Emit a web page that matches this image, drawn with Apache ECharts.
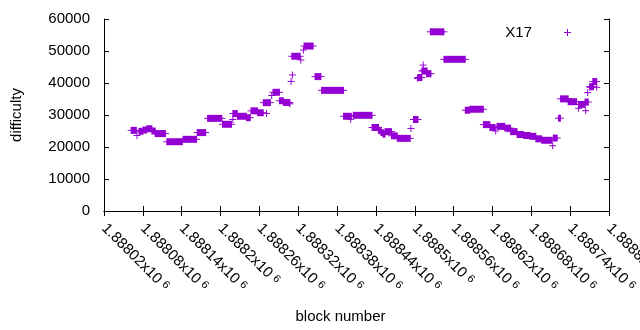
<!DOCTYPE html>
<html>
<head>
<meta charset="utf-8">
<script src="https://cdn.jsdelivr.net/npm/echarts@6/dist/echarts.min.js"></script>
<style>
  html, body { margin: 0; padding: 0; background: #fff; }
  #chart { width: 640px; height: 330px; }
</style>
</head>
<body>
<div id="chart"></div>
<script>
// Each entry is a run of consecutive blocks plotted at one difficulty
// (a single point when from == to).
const blockFrom = [
  1888062, 1888071, 1888074, 1888080, 1888086, 1888094, 1888099, 1888117, 1888142, 1888164,
  1888180, 1888203, 1888219, 1888219, 1888226, 1888240, 1888247, 1888257, 1888271, 1888266,
  1888279, 1888281, 1888291, 1888297, 1888307, 1888309, 1888311, 1888310, 1888324, 1888328,
  1888329, 1888346, 1888356, 1888390, 1888401, 1888405, 1888434, 1888444, 1888448, 1888451,
  1888454, 1888464, 1888473, 1888494, 1888498, 1888504, 1888505, 1888513, 1888513, 1888511,
  1888518, 1888524, 1888545, 1888578, 1888585, 1888606, 1888616, 1888625, 1888627, 1888639,
  1888648, 1888658, 1888668, 1888678, 1888687, 1888696, 1888713, 1888714, 1888722, 1888725,
  1888737, 1888753, 1888753, 1888764, 1888763, 1888767, 1888771, 1888770, 1888775, 1888781
];
const blockTo = [
  1888070, 1888071, 1888080, 1888086, 1888094, 1888099, 1888115, 1888141, 1888163, 1888177,
  1888202, 1888217, 1888219, 1888226, 1888240, 1888246, 1888257, 1888266, 1888271, 1888277,
  1888279, 1888291, 1888297, 1888307, 1888307, 1888309, 1888311, 1888323, 1888324, 1888328,
  1888343, 1888355, 1888390, 1888402, 1888401, 1888434, 1888444, 1888448, 1888451, 1888454,
  1888464, 1888473, 1888493, 1888494, 1888505, 1888504, 1888511, 1888513, 1888513, 1888519,
  1888525, 1888545, 1888578, 1888585, 1888606, 1888616, 1888624, 1888625, 1888639, 1888648,
  1888658, 1888668, 1888678, 1888687, 1888696, 1888712, 1888713, 1888720, 1888725, 1888737,
  1888750, 1888753, 1888763, 1888764, 1888768, 1888767, 1888771, 1888776, 1888781, 1888781
];
const difficulty = [
  25200, 23600, 24900, 25300, 25700, 25000, 24200, 21650, 22400, 24500,
  28950, 27100, 28600, 30450, 29600, 29150, 31300, 30700, 30500, 33850,
  36100, 37100, 34450, 33900, 33500, 40500, 42500, 48350, 47200, 50300,
  51550, 42000, 37700, 29600, 28650, 29900, 26100, 25200, 24500, 24000,
  24800, 23500, 22700, 25800, 28600, 41450, 41700, 45600, 44000, 43750,
  42900, 56000, 47400, 31500, 31800, 27000, 26100, 25000, 26450, 25900,
  24800, 23900, 23600, 23350, 22550, 22100, 20400, 22800, 29000, 35050,
  34150, 32100, 33300, 31350, 34050, 37000, 38650, 38850, 40450, 38650
];

const seriesName = 'X17';
const xMin = 1888020, xMax = 1888800, xStep = 60;
const yMin = 0, yMax = 60000, yStep = 10000;

const purple = '#9400d3';
const font = 'Liberation Sans';
const plusIcon = 'path://M3,0h1v3h3v1h-3v3h-1v-3h-3v-1h3z';

const points = blockFrom.map((b, i) => [b, blockTo[i], difficulty[i]]);

const chart = echarts.init(document.getElementById('chart'));

// draw a run as overlapping "+" marks: vertical bars merge into a block,
// the horizontal arms stick out at both ends
function renderRun(params, api) {
  const a = api.coord([api.value(0), api.value(2)]);
  const b = api.coord([api.value(1), api.value(2)]);
  const color = api.visual('color');
  return {
    type: 'group',
    children: [
      { type: 'rect', shape: { x: a[0] - 0.5, y: a[1] - 3.5, width: b[0] - a[0] + 1, height: 7 },
        style: { fill: color } },
      { type: 'rect', shape: { x: a[0] - 3.5, y: a[1] - 0.5, width: b[0] - a[0] + 7, height: 1 },
        style: { fill: color } }
    ]
  };
}

const tickStyle = { show: true, inside: true, length: 5, lineStyle: { color: '#000', width: 1 } };
const lineStyle = { show: true, lineStyle: { color: '#000', width: 1 } };

chart.setOption({
  animation: false,
  backgroundColor: '#fff',
  textStyle: { fontFamily: font },
  grid: { left: 104, right: 31, top: 19, bottom: 119, containLabel: false, outerBoundsMode: 'none' },
  legend: {
    data: [{ name: seriesName, icon: plusIcon }],
    right: 69,
    top: 25,
    padding: 0,
    align: 'right',
    itemWidth: 7,
    itemHeight: 7,
    textStyle: { fontFamily: font, fontSize: 15, color: '#000', padding: [0, 27, 0, 0] }
  },
  xAxis: [
    {
      type: 'value',
      min: xMin, max: xMax, interval: xStep,
      name: 'block number',
      nameLocation: 'middle',
      nameGap: 98,
      nameTextStyle: { fontFamily: font, fontSize: 15, color: '#000', padding: [0, 32, 0, 0] },
      axisLine: lineStyle,
      axisTick: tickStyle,
      splitLine: { show: false },
      axisLabel: {
        rotate: -45,
        margin: 15,
        interval: 0,
        showMinLabel: true,
        showMaxLabel: true,
        hideOverlap: false,
        formatter: v => '{m|' + parseFloat((v / 1e6).toPrecision(6)) + 'x10}{e|6}',
        rich: {
          m: { fontFamily: font, fontSize: 15, color: '#000' },
          e: { fontFamily: font, fontSize: 11, color: '#000', padding: [0, 0, 0, 4], verticalAlign: 'top' }
        }
      }
    },
    {
      type: 'value', position: 'top',
      min: xMin, max: xMax, interval: xStep,
      axisLine: lineStyle, axisTick: tickStyle,
      axisLabel: { show: false }, splitLine: { show: false }
    }
  ],
  yAxis: [
    {
      type: 'value',
      min: yMin, max: yMax, interval: yStep,
      name: 'difficulty',
      nameLocation: 'middle',
      nameGap: 80,
      nameTextStyle: { fontFamily: font, fontSize: 15, color: '#000' },
      axisLine: lineStyle,
      axisTick: tickStyle,
      splitLine: { show: false },
      axisLabel: { fontFamily: font, fontSize: 15, color: '#000', margin: 14, formatter: v => String(v) }
    },
    {
      type: 'value', position: 'right',
      min: yMin, max: yMax, interval: yStep,
      axisLine: lineStyle, axisTick: tickStyle,
      axisLabel: { show: false }, splitLine: { show: false }
    }
  ],
  series: [
    {
      name: seriesName,
      type: 'custom',
      xAxisIndex: 0,
      yAxisIndex: 0,
      clip: true,
      itemStyle: { color: purple },
      encode: { x: [0, 1], y: 2 },
      renderItem: renderRun,
      data: points
    }
  ]
});
</script>
</body>
</html>
